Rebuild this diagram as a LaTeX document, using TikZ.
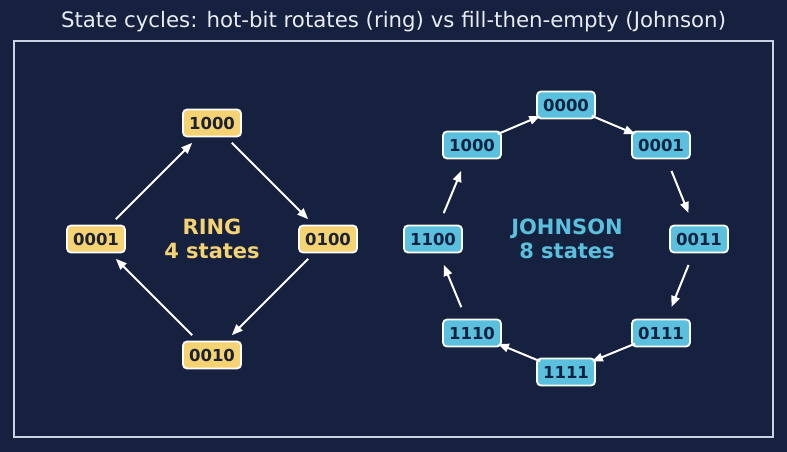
\documentclass[tikz,border=0pt]{standalone}
\usepackage{fontspec}
\setmainfont{DejaVu Sans}
\usetikzlibrary{arrows.meta}
\definecolor{bg}{HTML}{16203F}
\definecolor{framec}{HTML}{C8D2E2}
\definecolor{ringc}{HTML}{F5D372}
\definecolor{johnc}{HTML}{5BC0DE}
\definecolor{ringtxt}{HTML}{1C2233}
\definecolor{johntxt}{HTML}{0E2342}
\definecolor{titlec}{HTML}{E8ECF4}
\tikzset{
  ringnode/.style={draw=white, line width=1.8pt, fill=ringc, rounded corners=4pt,
    minimum width=58pt, minimum height=27pt, inner sep=0pt, text=ringtxt,
    font=\fontsize{16.5}{19}\selectfont\bfseries},
  johnnode/.style={ringnode, fill=johnc, text=johntxt},
  flow/.style={draw=white, line width=2pt, -{Triangle[length=11pt,width=8.5pt]},
    shorten <=28pt, shorten >=28pt},
}
\begin{document}
\begin{tikzpicture}[x=1pt,y=-1pt]
\fill[bg] (0,0) rectangle (787,452);
\useasboundingbox (0,0) rectangle (787,452);
\draw[framec, line width=1.5pt] (14,41) rectangle (773,437);
\node[text=titlec, font=\fontsize{21.3}{24}\selectfont] (title) at (393.5,22) {State cycles: hot-bit rotates (ring) vs fill-then-empty (Johnson)};

% ring
\node[ringnode] (r1000) at (212,123) {1000};
\node[ringnode] (r0100) at (328,239) {0100};
\node[ringnode] (r0010) at (212,355) {0010};
\node[ringnode] (r0001) at (96,239) {0001};
\node[text=ringc, align=center, font=\fontsize{21}{24}\selectfont\bfseries] (ringlbl) at (212,239) {RING\\4 states};
\draw[flow] (r1000.center) -- (r0100.center);
\draw[flow] (r0100.center) -- (r0010.center);
\draw[flow] (r0010.center) -- (r0001.center);
\draw[flow] (r0001.center) -- (r1000.center);

% johnson
\node[johnnode] (j0000) at (566,105) {0000};
\node[johnnode] (j0001) at (661,145) {0001};
\node[johnnode] (j0011) at (699,239) {0011};
\node[johnnode] (j0111) at (661,333) {0111};
\node[johnnode] (j1111) at (566,372) {1111};
\node[johnnode] (j1110) at (472,333) {1110};
\node[johnnode] (j1100) at (433,239) {1100};
\node[johnnode] (j1000) at (472,145) {1000};
\node[text=johnc, align=center, font=\fontsize{21}{24}\selectfont\bfseries] (johnlbl) at (567,239) {JOHNSON\\8 states};
\draw[flow] (j0000.center) -- (j0001.center);
\draw[flow] (j0001.center) -- (j0011.center);
\draw[flow] (j0011.center) -- (j0111.center);
\draw[flow] (j0111.center) -- (j1111.center);
\draw[flow] (j1111.center) -- (j1110.center);
\draw[flow] (j1110.center) -- (j1100.center);
\draw[flow] (j1100.center) -- (j1000.center);
\draw[flow] (j1000.center) -- (j0000.center);
\end{tikzpicture}
\end{document}
